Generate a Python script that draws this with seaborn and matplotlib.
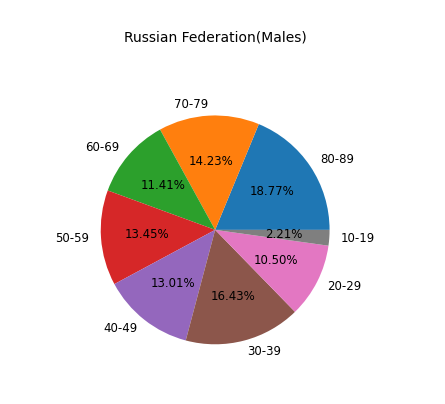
import matplotlib
matplotlib.use("Agg")
import matplotlib.pyplot as plt
import seaborn as sns

labels = ["80-89", "70-79", "60-69", "50-59", "40-49", "30-39", "20-29", "10-19"]
values = [18.77, 14.23, 11.41, 13.45, 13.01, 16.43, 10.50, 2.21]

colors = sns.color_palette("tab10", 8)

fig = plt.figure(figsize=(4.45, 4.04), dpi=100)
ax = fig.add_axes([0.162, 0.077, 0.643, 0.708])
ax.pie(values, labels=labels, autopct="%1.2f%%", colors=colors,
       wedgeprops={"linewidth": 0}, textprops={"fontsize": 8.5, "color": "black"})
ax.set_aspect("equal")
fig.text(0.483, 0.908, "Russian Federation(Males)", ha="center", va="center", fontsize=10)
fig.savefig("out.png", dpi=100)
